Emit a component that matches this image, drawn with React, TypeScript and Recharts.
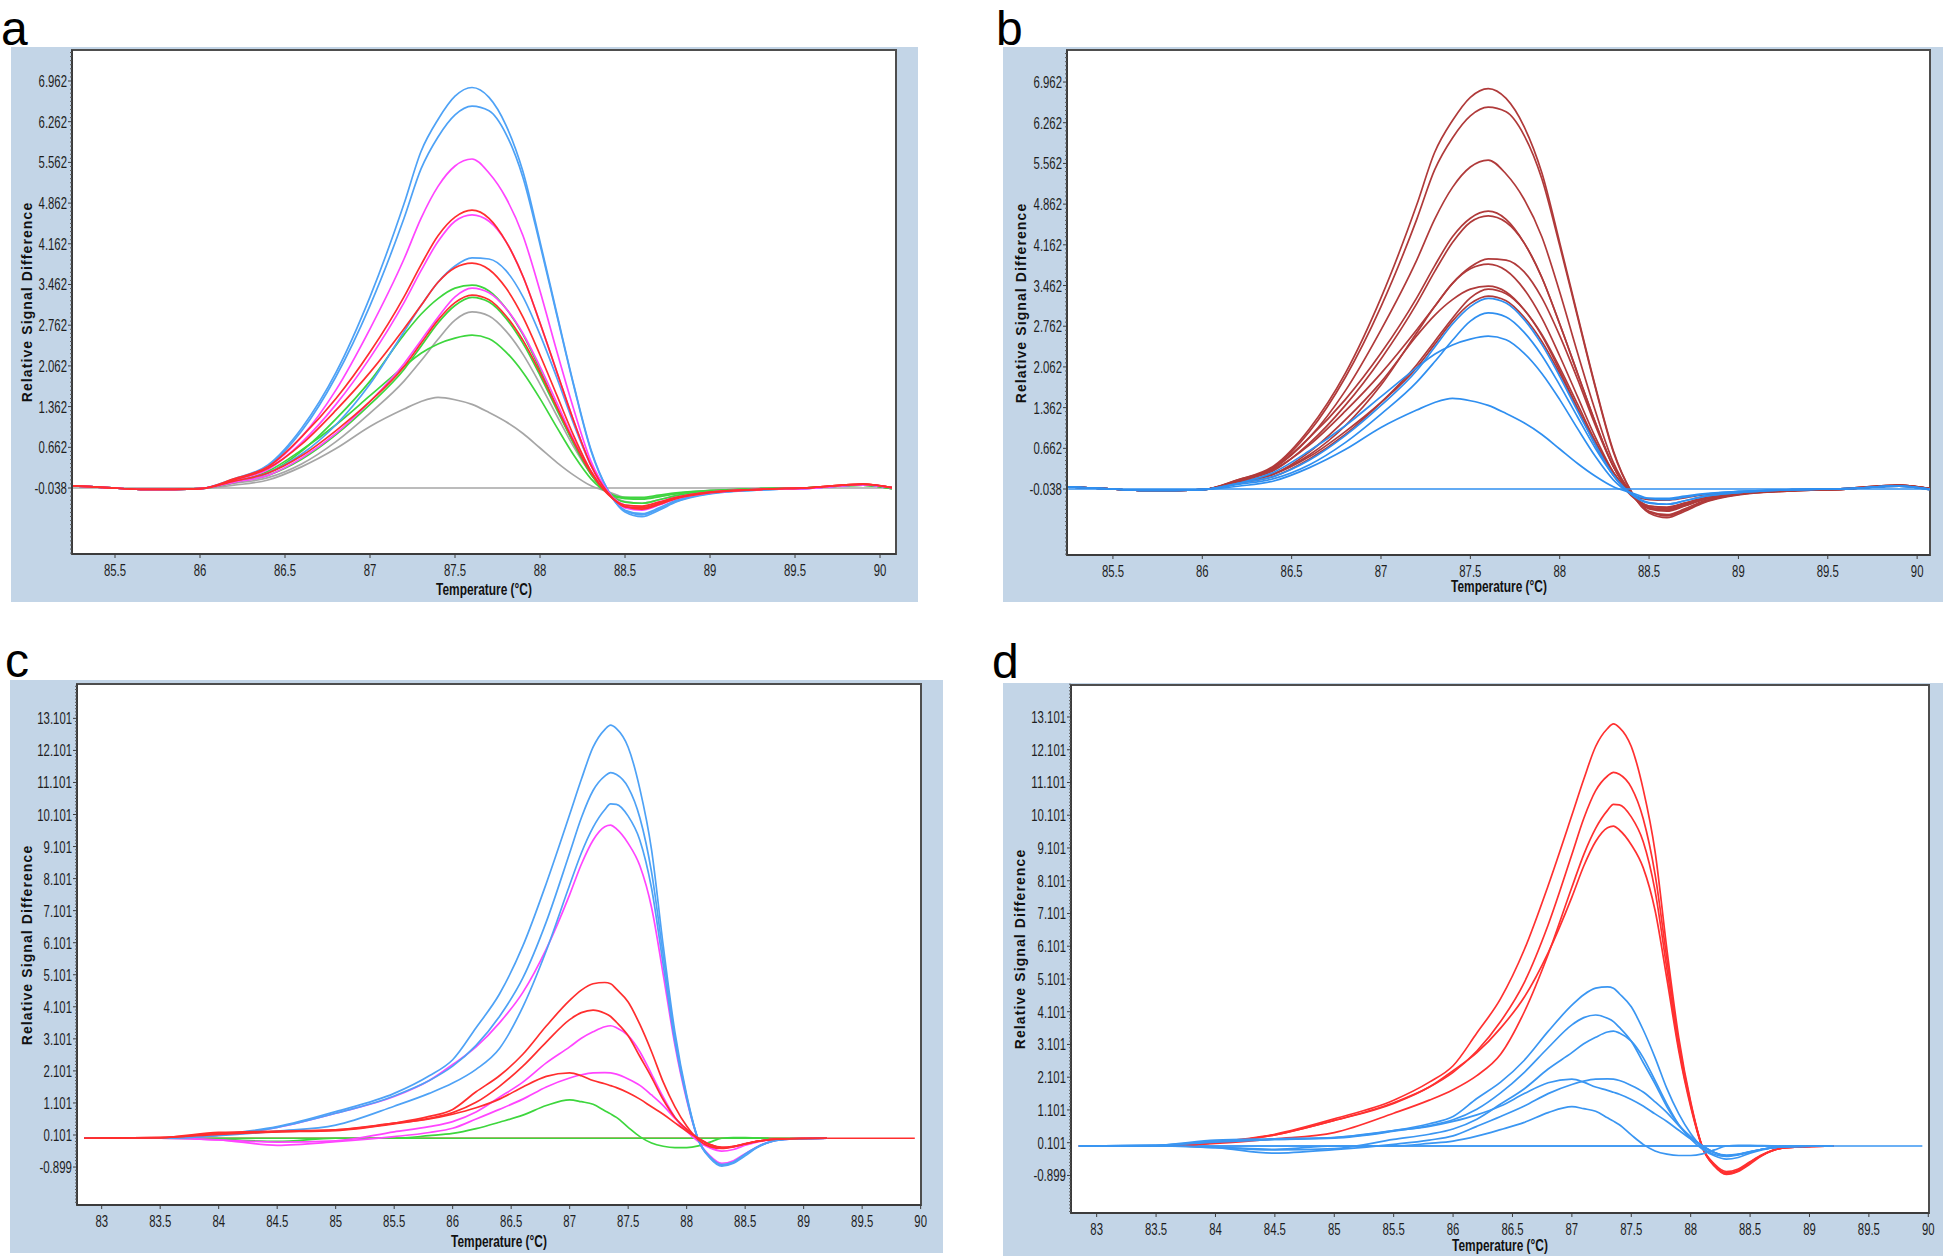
import React from 'react';
import { LineChart, Line, XAxis, YAxis } from 'recharts';

// ---------------- data: panels a / b (temperature grid + curves) ----------------
const X_AB = [85.25, 85.45, 85.65, 85.85, 86.0, 86.2, 86.4, 86.6, 86.8, 87.0, 87.2, 87.3, 87.4, 87.5, 87.6, 87.7, 87.8, 87.9, 88.0, 88.1, 88.2, 88.3, 88.4, 88.5, 88.6, 88.7, 88.8, 89.0, 89.3, 89.6, 89.9, 90.07];

const AB_BLUE1 = [0.0, -0.03, -0.06, -0.06, -0.05, 0.12, 0.36, 1.0, 1.95, 3.25, 4.85, 5.75, 6.3, 6.7, 6.85, 6.68, 6.2, 5.4, 4.2, 2.95, 1.72, 0.62, -0.08, -0.45, -0.53, -0.42, -0.28, -0.14, -0.07, -0.04, 0.02, -0.03];
const AB_BLUE2 = [0.0, -0.03, -0.06, -0.06, -0.05, 0.11, 0.34, 0.95, 1.88, 3.1, 4.6, 5.45, 6.0, 6.38, 6.53, 6.45, 6.05, 5.3, 4.15, 2.92, 1.7, 0.6, -0.08, -0.43, -0.5, -0.4, -0.27, -0.13, -0.07, -0.04, 0.02, -0.03];
const AB_MAG1 = [0.0, -0.03, -0.06, -0.06, -0.05, 0.1, 0.32, 0.85, 1.65, 2.7, 3.9, 4.6, 5.15, 5.5, 5.62, 5.38, 4.95, 4.3, 3.35, 2.3, 1.3, 0.42, -0.1, -0.38, -0.42, -0.33, -0.22, -0.12, -0.06, -0.04, 0.02, -0.03];
const AB_RED1 = [0.0, -0.03, -0.06, -0.06, -0.05, 0.12, 0.33, 0.85, 1.5, 2.3, 3.25, 3.8, 4.3, 4.62, 4.74, 4.6, 4.2, 3.6, 2.8, 1.95, 1.1, 0.35, -0.12, -0.36, -0.4, -0.32, -0.22, -0.12, -0.06, -0.03, 0.03, -0.03];
const AB_MAG2 = [0.0, -0.03, -0.06, -0.06, -0.05, 0.1, 0.28, 0.75, 1.4, 2.2, 3.15, 3.7, 4.2, 4.55, 4.66, 4.55, 4.2, 3.6, 2.8, 1.95, 1.1, 0.35, -0.12, -0.35, -0.4, -0.32, -0.22, -0.12, -0.06, -0.04, 0.02, -0.03];
const AB_BLUE3 = [0.0, -0.03, -0.06, -0.06, -0.05, 0.08, 0.22, 0.55, 1.05, 1.75, 2.65, 3.1, 3.5, 3.78, 3.92, 3.9, 3.7, 3.25, 2.6, 1.85, 1.05, 0.35, -0.12, -0.42, -0.48, -0.38, -0.25, -0.13, -0.07, -0.04, 0.02, -0.03];
const AB_RED2 = [0.0, -0.03, -0.06, -0.06, -0.05, 0.1, 0.3, 0.72, 1.3, 1.95, 2.7, 3.1, 3.5, 3.75, 3.83, 3.72, 3.4, 2.9, 2.25, 1.55, 0.85, 0.25, -0.15, -0.33, -0.35, -0.28, -0.2, -0.11, -0.06, -0.03, 0.03, -0.03];
const AB_GREEN1 = [0.0, -0.03, -0.06, -0.06, -0.05, 0.08, 0.22, 0.6, 1.15, 1.8, 2.6, 2.95, 3.22, 3.4, 3.45, 3.35, 3.05, 2.6, 2.0, 1.35, 0.72, 0.2, -0.12, -0.22, -0.23, -0.19, -0.14, -0.09, -0.05, -0.03, 0.01, -0.05];
const AB_MAG3 = [0.0, -0.03, -0.06, -0.06, -0.05, 0.06, 0.18, 0.48, 0.9, 1.45, 2.1, 2.5, 2.9, 3.25, 3.4, 3.32, 3.05, 2.62, 2.05, 1.42, 0.78, 0.25, -0.12, -0.33, -0.36, -0.28, -0.2, -0.11, -0.06, -0.04, 0.02, -0.03];
const AB_RED3 = [0.0, -0.03, -0.06, -0.06, -0.05, 0.08, 0.22, 0.52, 0.95, 1.45, 2.05, 2.45, 2.85, 3.15, 3.28, 3.2, 2.92, 2.5, 1.95, 1.35, 0.75, 0.22, -0.14, -0.36, -0.38, -0.3, -0.21, -0.11, -0.06, -0.03, 0.03, -0.03];
const AB_GREEN2 = [0.0, -0.03, -0.06, -0.06, -0.05, 0.06, 0.18, 0.46, 0.88, 1.4, 2.0, 2.4, 2.8, 3.1, 3.24, 3.16, 2.88, 2.45, 1.9, 1.3, 0.72, 0.2, -0.13, -0.28, -0.3, -0.24, -0.17, -0.1, -0.05, -0.03, 0.01, -0.05];
const AB_GRAY1 = [0.0, -0.03, -0.06, -0.06, -0.05, 0.04, 0.14, 0.38, 0.76, 1.25, 1.8, 2.15, 2.52, 2.85, 2.99, 2.92, 2.66, 2.26, 1.75, 1.2, 0.66, 0.2, -0.12, -0.27, -0.3, -0.24, -0.17, -0.1, -0.05, -0.03, 0.01, -0.04];
const AB_GREEN3 = [0.0, -0.03, -0.06, -0.06, -0.05, 0.06, 0.25, 0.62, 1.05, 1.55, 2.05, 2.28, 2.44, 2.54, 2.59, 2.53, 2.3, 1.95, 1.5, 1.0, 0.52, 0.12, -0.12, -0.2, -0.2, -0.16, -0.12, -0.08, -0.05, -0.03, 0.01, -0.05];
const AB_GRAY2 = [0.0, -0.03, -0.06, -0.06, -0.05, 0.01, 0.1, 0.33, 0.64, 1.02, 1.32, 1.45, 1.52, 1.48, 1.4, 1.26, 1.1, 0.9, 0.65, 0.4, 0.18, 0.0, -0.1, -0.2, -0.22, -0.18, -0.13, -0.08, -0.05, -0.03, 0.01, -0.04];
const FLAT_AB_X = [85.25, 90.07];
const FLAT_AB_Y = [-0.038, -0.038];

// ---------------- data: panels c / d ----------------
const X_CD = [82.85, 83.5, 84.0, 84.5, 85.0, 85.5, 85.8, 86.0, 86.2, 86.4, 86.6, 86.8, 87.0, 87.1, 87.2, 87.3, 87.35, 87.4, 87.5, 87.6, 87.7, 87.8, 87.9, 88.0, 88.1, 88.2, 88.3, 88.4, 88.5, 88.6, 88.8, 89.2];

const CD_BLUE1 = [0.0, 0.0, 0.12, 0.36, 0.83, 1.4, 1.95, 2.45, 3.45, 4.5, 6.0, 7.95, 10.1, 11.2, 12.2, 12.75, 12.89, 12.78, 12.2, 10.9, 9.0, 6.0, 3.3, 1.35, -0.05, -0.62, -0.87, -0.78, -0.55, -0.3, -0.05, 0.0];
const CD_BLUE2 = [0.0, 0.0, 0.1, 0.34, 0.78, 1.32, 1.8, 2.25, 2.9, 3.8, 5.0, 6.75, 8.9, 10.0, 10.85, 11.3, 11.41, 11.35, 10.95, 10.0, 8.3, 5.7, 3.15, 1.3, -0.05, -0.6, -0.85, -0.76, -0.5, -0.28, -0.05, 0.0];
const CD_BLUE3 = [0.0, 0.0, 0.08, 0.22, 0.41, 1.0, 1.4, 1.72, 2.15, 2.8, 4.1, 5.85, 7.9, 8.9, 9.7, 10.25, 10.43, 10.42, 10.05, 9.3, 7.8, 5.4, 3.0, 1.25, -0.05, -0.58, -0.82, -0.74, -0.5, -0.28, -0.05, 0.0];
const CD_MAG1 = [0.0, 0.0, 0.1, 0.34, 0.78, 1.3, 1.8, 2.3, 2.85, 3.6, 4.55, 5.9, 7.6, 8.55, 9.3, 9.72, 9.77, 9.65, 9.2, 8.5, 7.2, 5.1, 2.9, 1.2, -0.05, -0.55, -0.78, -0.7, -0.48, -0.27, -0.05, 0.0];
const CD_RED1 = [0.0, 0.02, 0.18, 0.22, 0.26, 0.47, 0.68, 0.9, 1.45, 1.95, 2.62, 3.5, 4.3, 4.62, 4.82, 4.86, 4.82, 4.65, 4.25, 3.55, 2.7, 1.75, 0.98, 0.38, -0.05, -0.26, -0.32, -0.27, -0.18, -0.1, -0.02, 0.0];
const CD_RED2 = [0.0, 0.02, 0.15, 0.2, 0.24, 0.45, 0.62, 0.8, 1.12, 1.62, 2.25, 3.0, 3.7, 3.92, 4.0, 3.9, 3.8, 3.62, 3.2, 2.55, 1.9, 1.2, 0.65, 0.28, 0.0, -0.2, -0.28, -0.25, -0.17, -0.1, -0.02, 0.0];
const CD_MAG2 = [0.0, 0.0, -0.05, -0.12, -0.08, 0.2, 0.36, 0.52, 0.82, 1.28, 1.75, 2.35, 2.85, 3.12, 3.32, 3.48, 3.51, 3.45, 3.2, 2.7, 2.0, 1.28, 0.65, 0.22, -0.1, -0.3, -0.4, -0.35, -0.22, -0.12, -0.02, 0.0];
const CD_RED3 = [0.0, 0.02, 0.12, 0.2, 0.26, 0.47, 0.6, 0.75, 0.95, 1.22, 1.6, 1.93, 2.04, 1.95, 1.8, 1.7, 1.64, 1.58, 1.42, 1.22, 0.98, 0.75, 0.48, 0.22, 0.0, -0.2, -0.3, -0.26, -0.18, -0.1, -0.02, 0.0];
const CD_MAG3 = [0.0, 0.0, -0.05, -0.22, -0.11, 0.05, 0.18, 0.31, 0.6, 0.9, 1.22, 1.6, 1.88, 1.98, 2.04, 2.05, 2.04, 2.0, 1.85, 1.65, 1.35, 1.02, 0.62, 0.28, 0.0, -0.2, -0.3, -0.26, -0.18, -0.1, -0.02, 0.0];
const CD_GREEN = [0.0, 0.0, -0.03, -0.1, 0.0, 0.0, 0.08, 0.15, 0.3, 0.5, 0.72, 1.02, 1.2, 1.14, 1.06, 0.86, 0.76, 0.65, 0.34, 0.05, -0.15, -0.25, -0.29, -0.29, -0.24, -0.12, 0.0, 0.02, 0.02, 0.01, 0.0, 0.0];
const FLAT_CD1_X = [82.85, 89.95];
const FLAT_CD2_X = [82.85, 88.7];
const FLAT_CD_Y = [0.0, 0.0];

// ---------------- ticks ----------------
const Y_TICKS_AB = [-0.038, 0.662, 1.362, 2.062, 2.762, 3.462, 4.162, 4.862, 5.562, 6.262, 6.962];
const Y_TICKS_CD = [-0.899, 0.101, 1.101, 2.101, 3.101, 4.101, 5.101, 6.101, 7.101, 8.101, 9.101, 10.101, 11.101, 12.101, 13.101];
const X_TICKS_AB = [85.5, 86, 86.5, 87, 87.5, 88, 88.5, 89, 89.5, 90];
const X_TICKS_CD = [83, 83.5, 84, 84.5, 85, 85.5, 86, 86.5, 87, 87.5, 88, 88.5, 89, 89.5, 90];

const minorTicks = (start: number, step: number, count: number) =>
  Array.from({ length: count }, (_, i) => Math.round((start + i * step) * 1000) / 1000);
const Y_MINOR_AB = minorTicks(-1.158, 0.07, 124);
const Y_MINOR_CD = minorTicks(-1.999, 0.1, 162);

// ---------------- styles ----------------
const BG = '#c3d5e7';
const AXIS = '#3c3c3c';
const FONT = "'Liberation Sans', Arial, sans-serif";

const GRAY = '#a6a6a6';
const GREEN = '#3dd63d';
const BLUE = '#4ea2f6';
const MAG = '#ff45ff';
const RED = '#ff2e2e';
const B_RED = '#b03a3a';
const B_BLUE = '#2f8ff0';
const D_RED = '#ff3030';
const D_BLUE = '#3a96f2';

type Series = { x: number[]; y: number[]; color: string };
const toData = (x: number[], y: number[]) => x.map((v, i) => ({ x: v, y: y[i] }));

const A_SERIES: Series[] = [
  { x: FLAT_AB_X, y: FLAT_AB_Y, color: GRAY },
  { x: X_AB, y: AB_GRAY2, color: GRAY },
  { x: X_AB, y: AB_GRAY1, color: GRAY },
  { x: X_AB, y: AB_GREEN3, color: GREEN },
  { x: X_AB, y: AB_GREEN2, color: GREEN },
  { x: X_AB, y: AB_GREEN1, color: GREEN },
  { x: X_AB, y: AB_BLUE3, color: BLUE },
  { x: X_AB, y: AB_BLUE2, color: BLUE },
  { x: X_AB, y: AB_BLUE1, color: BLUE },
  { x: X_AB, y: AB_MAG3, color: MAG },
  { x: X_AB, y: AB_MAG2, color: MAG },
  { x: X_AB, y: AB_MAG1, color: MAG },
  { x: X_AB, y: AB_RED3, color: RED },
  { x: X_AB, y: AB_RED2, color: RED },
  { x: X_AB, y: AB_RED1, color: RED },
];

const B_SERIES: Series[] = [
  { x: X_AB, y: AB_BLUE1, color: B_RED },
  { x: X_AB, y: AB_BLUE2, color: B_RED },
  { x: X_AB, y: AB_MAG1, color: B_RED },
  { x: X_AB, y: AB_RED1, color: B_RED },
  { x: X_AB, y: AB_MAG2, color: B_RED },
  { x: X_AB, y: AB_BLUE3, color: B_RED },
  { x: X_AB, y: AB_RED2, color: B_RED },
  { x: X_AB, y: AB_GREEN1, color: B_RED },
  { x: X_AB, y: AB_MAG3, color: B_RED },
  { x: X_AB, y: AB_RED3, color: B_RED },
  { x: FLAT_AB_X, y: FLAT_AB_Y, color: B_BLUE },
  { x: X_AB, y: AB_GREEN2, color: B_BLUE },
  { x: X_AB, y: AB_GRAY1, color: B_BLUE },
  { x: X_AB, y: AB_GREEN3, color: B_BLUE },
  { x: X_AB, y: AB_GRAY2, color: B_BLUE },
];

const C_SERIES: Series[] = [
  { x: FLAT_CD1_X, y: FLAT_CD_Y, color: RED },
  { x: FLAT_CD2_X, y: FLAT_CD_Y, color: GREEN },
  { x: X_CD, y: CD_GREEN, color: GREEN },
  { x: X_CD, y: CD_MAG3, color: MAG },
  { x: X_CD, y: CD_MAG2, color: MAG },
  { x: X_CD, y: CD_MAG1, color: MAG },
  { x: X_CD, y: CD_BLUE3, color: BLUE },
  { x: X_CD, y: CD_BLUE2, color: BLUE },
  { x: X_CD, y: CD_BLUE1, color: BLUE },
  { x: X_CD, y: CD_RED3, color: RED },
  { x: X_CD, y: CD_RED2, color: RED },
  { x: X_CD, y: CD_RED1, color: RED },
];

const D_SERIES: Series[] = [
  { x: FLAT_CD1_X, y: FLAT_CD_Y, color: D_BLUE },
  { x: FLAT_CD2_X, y: FLAT_CD_Y, color: D_BLUE },
  { x: X_CD, y: CD_MAG1, color: D_RED },
  { x: X_CD, y: CD_BLUE3, color: D_RED },
  { x: X_CD, y: CD_BLUE2, color: D_RED },
  { x: X_CD, y: CD_BLUE1, color: D_RED },
  { x: X_CD, y: CD_GREEN, color: D_BLUE },
  { x: X_CD, y: CD_MAG3, color: D_BLUE },
  { x: X_CD, y: CD_MAG2, color: D_BLUE },
  { x: X_CD, y: CD_RED3, color: D_BLUE },
  { x: X_CD, y: CD_RED2, color: D_BLUE },
  { x: X_CD, y: CD_RED1, color: D_BLUE },
];

type PanelProps = {
  letter: string;
  letterLeft: number;
  letterTop: number;
  left: number;
  top: number;
  width: number;
  height: number;
  plot: { left: number; top: number; right: number; bottom: number };
  xDomain: [number, number];
  yDomain: [number, number];
  xTicks: number[];
  yTicks: number[];
  yMinor: number[];
  series: Series[];
  yLabelX: number;
  xLabelY: number;
};

// condensed look of the instrument software: squeeze the glyphs to a fixed width per character
const condensedWidth = (s: string) =>
  s.split('').reduce((w, ch) => w + (ch === '.' ? 3.2 : ch === '-' ? 4.2 : 6.3), 0);

const renderXTick = (tp: any) => {
  const { x, y, payload } = tp;
  const label = String(payload.value);
  return (
    <g>
      <line x1={x} y1={y} x2={x} y2={y + 4} stroke={AXIS} strokeWidth={1} />
      <text
        x={x}
        y={y + 22}
        textAnchor="middle"
        fontFamily={FONT}
        fontSize={16}
        fill="#1e1e1e"
        textLength={condensedWidth(label)}
        lengthAdjust="spacingAndGlyphs"
      >
        {label}
      </text>
    </g>
  );
};

const renderYTick = (tp: any, majors: number[]) => {
  const { x, y, payload } = tp;
  const v = Number(payload.value);
  const isMajor = majors.some((m) => Math.abs(m - v) < 1e-6);
  if (!isMajor) {
    return <line x1={x - 2} y1={y} x2={x} y2={y} stroke="#5a5a5a" strokeWidth={1} />;
  }
  const label = v.toFixed(3);
  return (
    <g>
      <line x1={x - 4} y1={y} x2={x} y2={y} stroke={AXIS} strokeWidth={1} />
      <text
        x={x - 5}
        y={y + 6}
        textAnchor="end"
        fontFamily={FONT}
        fontSize={16}
        fill="#1e1e1e"
        textLength={condensedWidth(label)}
        lengthAdjust="spacingAndGlyphs"
      >
        {label}
      </text>
    </g>
  );
};

function Panel(p: PanelProps) {
  const { plot } = p;
  const margin = { top: plot.top, right: p.width - plot.right, bottom: 0, left: 0 };
  const xAxisHeight = p.height - plot.bottom;
  const allY = [...p.yMinor.filter((m) => !p.yTicks.some((t) => Math.abs(t - m) < 1e-6)), ...p.yTicks].sort((a, b) => a - b);
  const plotCx = (plot.left + plot.right) / 2;
  const plotCy = (plot.top + plot.bottom) / 2;
  return (
    <>
      <div style={{ position: 'absolute', left: p.left, top: p.top, width: p.width, height: p.height, background: BG }} />
      <div
        style={{
          position: 'absolute',
          left: p.left + plot.left - 1,
          top: p.top + plot.top - 1,
          width: plot.right - plot.left + 2,
          height: plot.bottom - plot.top + 2,
          background: '#ffffff',
          border: '2px solid #4e4e4e',
          boxSizing: 'border-box',
        }}
      />
      <div style={{ position: 'absolute', left: p.left, top: p.top, width: p.width, height: p.height }}>
        <LineChart width={p.width} height={p.height} margin={margin}>
          <XAxis
            type="number"
            dataKey="x"
            domain={p.xDomain}
            allowDataOverflow
            ticks={p.xTicks}
            interval={0}
            height={xAxisHeight}
            tickLine={false}
            tickSize={0}
            tickMargin={0}
            axisLine={{ stroke: AXIS, strokeWidth: 2 }}
            tick={renderXTick}
          />
          <YAxis
            type="number"
            dataKey="y"
            domain={p.yDomain}
            allowDataOverflow
            ticks={allY}
            interval={0}
            width={plot.left}
            tickLine={false}
            tickSize={0}
            tickMargin={0}
            axisLine={{ stroke: AXIS, strokeWidth: 2 }}
            tick={(tp: any) => renderYTick(tp, p.yTicks)}
          />
          {p.series.map((s, i) => (
            <Line
              key={i}
              data={toData(s.x, s.y)}
              dataKey="y"
              type="monotone"
              stroke={s.color}
              strokeWidth={1.7}
              dot={false}
              activeDot={false}
              isAnimationActive={false}
            />
          ))}
        </LineChart>
      </div>
      <div
        style={{
          position: 'absolute',
          left: p.left + p.yLabelX,
          top: p.top + plotCy,
          transform: 'translate(-50%, -50%) rotate(-90deg)',
          whiteSpace: 'nowrap',
          fontFamily: FONT,
          fontWeight: 700,
          fontSize: 14,
          letterSpacing: 1.1,
          color: '#111',
          lineHeight: '16px',
        }}
      >
        Relative Signal Difference
      </div>
      <div
        style={{
          position: 'absolute',
          left: p.left + plotCx,
          top: p.top + p.xLabelY,
          transform: 'translate(-50%, -50%) scaleX(0.7)',
          whiteSpace: 'nowrap',
          fontFamily: FONT,
          fontWeight: 700,
          fontSize: 17,
          color: '#111',
          lineHeight: '18px',
        }}
      >
        Temperature (°C)
      </div>
      <div
        style={{
          position: 'absolute',
          left: p.letterLeft,
          top: p.letterTop,
          fontFamily: FONT,
          fontSize: 48,
          lineHeight: 'normal',
          color: '#000',
        }}
      >
        {p.letter}
      </div>
    </>
  );
}

export default function App() {
  return (
    <div style={{ position: 'absolute', left: 0, top: 0, width: 1946, height: 1256, background: '#ffffff', overflow: 'hidden' }}>
      <Panel
        letter="a"
        letterLeft={1}
        letterTop={1}
        left={11}
        top={47}
        width={907}
        height={555}
        plot={{ left: 61, top: 3, right: 885, bottom: 507 }}
        xDomain={[85.247, 90.094]}
        yDomain={[-1.173, 7.495]}
        xTicks={X_TICKS_AB}
        yTicks={Y_TICKS_AB}
        yMinor={Y_MINOR_AB}
        series={A_SERIES}
        yLabelX={16}
        xLabelY={543}
      />
      <Panel
        letter="b"
        letterLeft={996}
        letterTop={1}
        left={1003}
        top={47}
        width={940}
        height={555}
        plot={{ left: 64, top: 3, right: 927, bottom: 508 }}
        xDomain={[85.243, 90.072]}
        yDomain={[-1.173, 7.513]}
        xTicks={X_TICKS_AB}
        yTicks={Y_TICKS_AB}
        yMinor={Y_MINOR_AB}
        series={B_SERIES}
        yLabelX={18}
        xLabelY={540}
      />
      <Panel
        letter="c"
        letterLeft={5}
        letterTop={633}
        left={10}
        top={680}
        width={933}
        height={573}
        plot={{ left: 67, top: 4, right: 911, bottom: 525 }}
        xDomain={[82.789, 90.003]}
        yDomain={[-2.083, 14.173]}
        xTicks={X_TICKS_CD}
        yTicks={Y_TICKS_CD}
        yMinor={Y_MINOR_CD}
        series={C_SERIES}
        yLabelX={17}
        xLabelY={562}
      />
      <Panel
        letter="d"
        letterLeft={992}
        letterTop={634}
        left={1003}
        top={683}
        width={940}
        height={573}
        plot={{ left: 68, top: 2, right: 926, bottom: 530 }}
        xDomain={[82.784, 90.006]}
        yDomain={[-2.046, 14.078]}
        xTicks={X_TICKS_CD}
        yTicks={Y_TICKS_CD}
        yMinor={Y_MINOR_CD}
        series={D_SERIES}
        yLabelX={17}
        xLabelY={563}
      />
    </div>
  );
}
